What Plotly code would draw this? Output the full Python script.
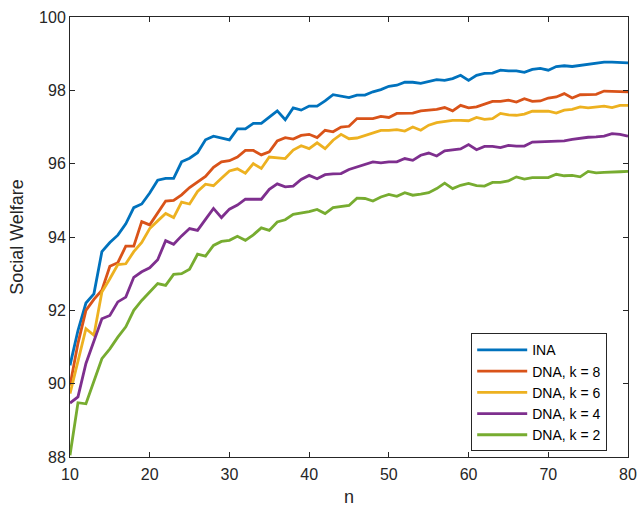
import plotly.graph_objects as go

n = list(range(10, 81))

ina = [90.5, 91.45, 92.2, 92.45, 93.6, 93.85, 94.05, 94.36, 94.8, 94.9,
       95.2, 95.55, 95.6, 95.6, 96.05, 96.15, 96.3, 96.65, 96.75, 96.7,
       96.65, 96.95, 96.95, 97.1, 97.1, 97.27, 97.44, 97.2, 97.52, 97.46,
       97.57, 97.57, 97.71, 97.88, 97.84, 97.8, 97.87, 97.87, 97.96, 98.02,
       98.11, 98.14, 98.22, 98.22, 98.19, 98.24, 98.29, 98.27, 98.32, 98.41,
       98.27, 98.41, 98.46, 98.47, 98.55, 98.53, 98.53, 98.49, 98.57, 98.6,
       98.55, 98.65, 98.67, 98.65, 98.68, 98.73, 98.76, 98.77, 98.77, 98.77,
       98.75]

dna_k8 = [89.95, 91.1, 92.0, 92.3, 92.55, 93.2, 93.3, 93.75, 93.75, 94.42,
          94.33, 94.66, 94.98, 95.0, 95.15, 95.35, 95.5, 95.65, 95.9, 96.05,
          96.08, 96.18, 96.36, 96.36, 96.24, 96.32, 96.62, 96.71, 96.67, 96.77,
          96.8, 96.71, 96.91, 96.87, 97.0, 97.02, 97.23, 97.23, 97.23, 97.29,
          97.26, 97.37, 97.37, 97.38, 97.44, 97.46, 97.48, 97.53, 97.44, 97.59,
          97.52, 97.55, 97.62, 97.7, 97.7, 97.73, 97.68, 97.77, 97.7, 97.71,
          97.79, 97.82, 97.91, 97.79, 97.88, 97.89, 97.89, 97.98, 97.98, 97.98,
          97.96]

dna_k6 = [89.73, 90.64, 91.5, 91.32, 92.5, 92.86, 93.25, 93.27, 93.6, 93.85,
          94.23, 94.44, 94.64, 94.53, 94.95, 94.9, 95.24, 95.44, 95.4, 95.6,
          95.8, 95.86, 95.74, 96.0, 95.87, 96.18, 96.16, 96.14, 96.37, 96.49,
          96.41, 96.57, 96.41, 96.64, 96.8, 96.68, 96.7, 96.77, 96.82, 96.91,
          96.91, 96.93, 96.89, 97.0, 96.91, 97.05, 97.12, 97.16, 97.18, 97.18,
          97.17, 97.26, 97.21, 97.23, 97.37, 97.33, 97.32, 97.35, 97.43, 97.43,
          97.43, 97.38, 97.46, 97.48, 97.55, 97.52, 97.55, 97.57, 97.53, 97.59,
          97.59]

dna_k4 = [89.47, 89.64, 90.55, 91.18, 91.77, 91.86, 92.23, 92.36, 92.9, 93.05,
          93.16, 93.38, 93.9, 93.8, 94.03, 94.23, 94.18, 94.48, 94.78, 94.53,
          94.76, 94.87, 95.03, 95.03, 95.03, 95.3, 95.45, 95.37, 95.39, 95.57,
          95.68, 95.59, 95.7, 95.72, 95.73, 95.84, 95.91, 95.96, 96.05, 96.02,
          96.05, 96.05, 96.14, 96.09, 96.23, 96.29, 96.21, 96.35, 96.37, 96.4,
          96.52, 96.38, 96.47, 96.47, 96.44, 96.5, 96.48, 96.48, 96.59, 96.6,
          96.61, 96.62, 96.62, 96.66, 96.7, 96.72, 96.73, 96.75, 96.82, 96.8,
          96.75]

dna_k2 = [88.05, 89.48, 89.45, 90.09, 90.68, 90.95, 91.27, 91.55, 92.0, 92.27,
          92.5, 92.73, 92.68, 92.98, 93.0, 93.12, 93.53, 93.48, 93.77, 93.88,
          93.91, 94.02, 93.91, 94.06, 94.25, 94.18, 94.41, 94.47, 94.62, 94.65,
          94.69, 94.75, 94.64, 94.8, 94.82, 94.86, 95.06, 95.05, 94.98, 95.09,
          95.16, 95.11, 95.21, 95.14, 95.17, 95.21, 95.32, 95.47, 95.32, 95.41,
          95.46, 95.4, 95.39, 95.49, 95.49, 95.53, 95.64, 95.58, 95.62, 95.62,
          95.62, 95.71, 95.67, 95.68, 95.64, 95.79, 95.75, 95.76, 95.78, 95.78,
          95.79]

names = ["INA", "DNA, k = 8", "DNA, k = 6", "DNA, k = 4", "DNA, k = 2"]
series = [ina, dna_k8, dna_k6, dna_k4, dna_k2]
colors = ["#0072BD", "#D95319", "#EDB120", "#7E2F8E", "#77AC30"]

x_ticks = [10, 20, 30, 40, 50, 60, 70, 80]
y_ticks = [88, 90, 92, 94, 96, 98, 100]

fig = go.Figure()
for name, ys, c in zip(names, series, colors):
    fig.add_trace(go.Scatter(x=n, y=ys, mode="lines", name=name,
                             line=dict(color=c, width=2.8)))

axis_common = dict(
    showline=True, linecolor="#262626", linewidth=1, mirror="ticks",
    ticks="inside", ticklen=5, tickcolor="#262626", tickwidth=1,
    showgrid=False, zeroline=False, automargin=False,
    tickfont=dict(family="Liberation Sans, Arial", size=16, color="#262626"),
)

fig.update_layout(
    width=639, height=509,
    margin=dict(l=70, r=11, t=17, b=52),
    paper_bgcolor="white", plot_bgcolor="white",
    font=dict(family="Liberation Sans, Arial", size=16, color="#262626"),
    xaxis=dict(range=[10, 80], tickvals=x_ticks, ticklabelstandoff=3,
               **axis_common),
    yaxis=dict(range=[88, 100], tickvals=y_ticks,
               title=dict(text="Social Welfare", font=dict(size=18), standoff=10),
               **axis_common),
    legend=dict(x=0.719, y=0.281, xanchor="left", yanchor="top",
                bordercolor="#262626", borderwidth=1, bgcolor="white",
                font=dict(size=14, color="#000000"), itemwidth=50,
                tracegroupgap=0),
    showlegend=True,
    annotations=[dict(text="n", xref="paper", yref="paper", x=0.5, y=0,
                      xanchor="center", yanchor="top", yshift=-28,
                      showarrow=False, font=dict(size=18, color="#262626"))],
)

fig.write_html("out.html", config={"displayModeBar": False},
               post_script="document.body.style.margin='0';document.body.style.overflow='hidden';")
